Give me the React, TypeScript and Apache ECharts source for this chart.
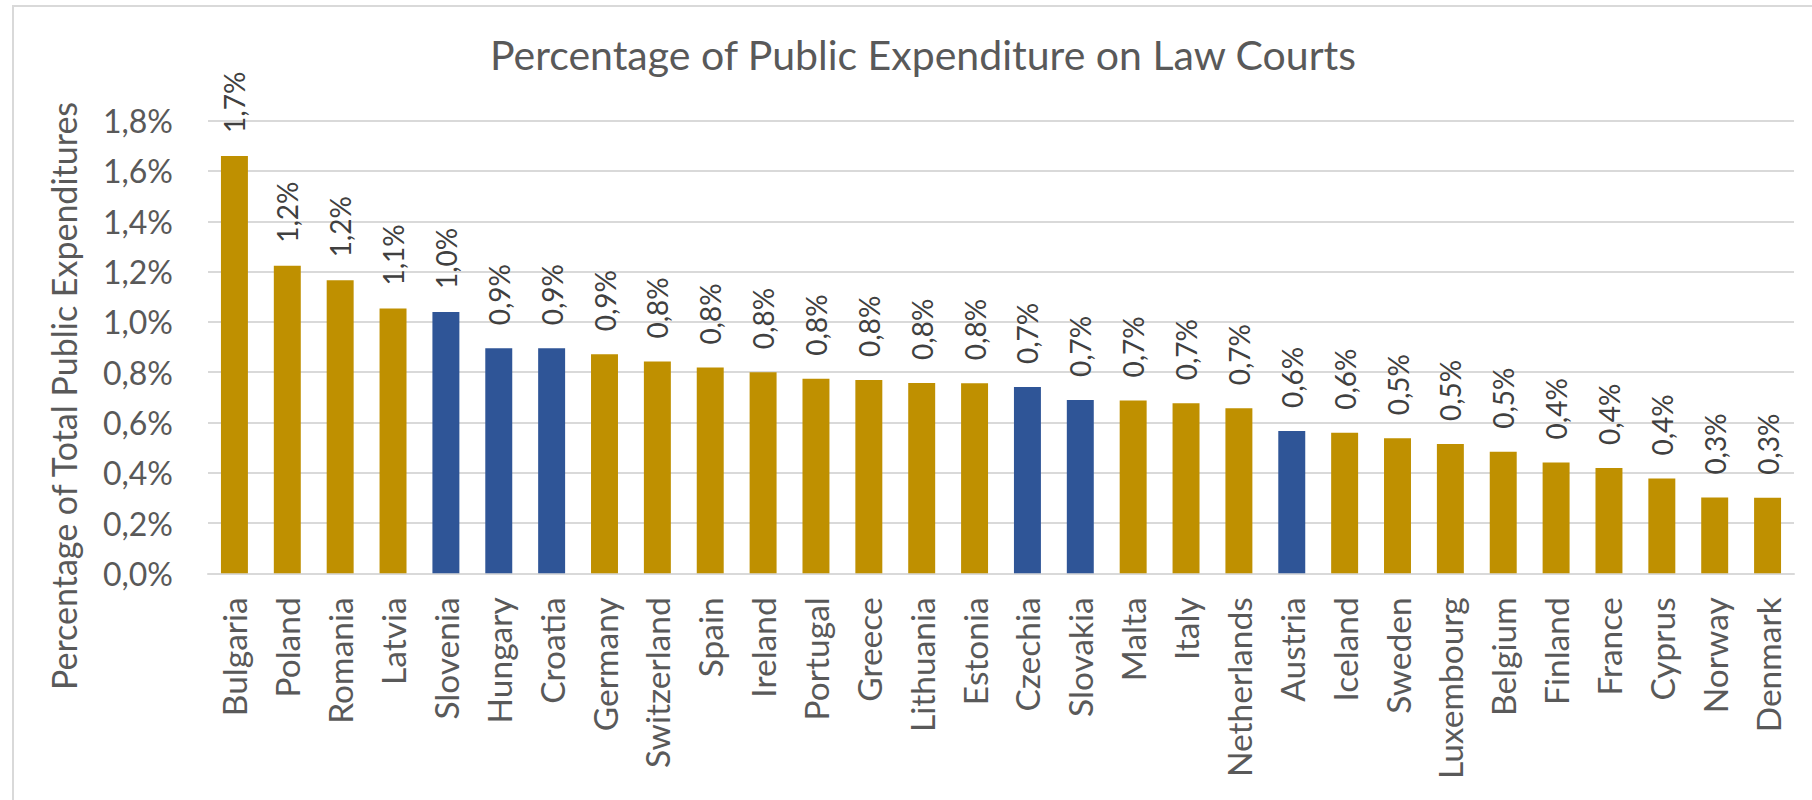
import React, { useEffect, useRef } from "react";
import * as echarts from "echarts";

const countries = [
  "Bulgaria", "Poland", "Romania", "Latvia", "Slovenia", "Hungary", "Croatia", "Germany",
  "Switzerland", "Spain", "Ireland", "Portugal", "Greece", "Lithuania", "Estonia", "Czechia",
  "Slovakia", "Malta", "Italy", "Netherlands", "Austria", "Iceland", "Sweden", "Luxembourg",
  "Belgium", "Finland", "France", "Cyprus", "Norway", "Denmark",
];

const values = [
  1.66, 1.223, 1.165, 1.053, 1.039, 0.895, 0.895, 0.871,
  0.842, 0.818, 0.8, 0.774, 0.769, 0.757, 0.756, 0.741,
  0.689, 0.687, 0.676, 0.656, 0.566, 0.559, 0.537, 0.514,
  0.483, 0.441, 0.419, 0.377, 0.301, 0.3,
];

const highlighted = ["Slovenia", "Hungary", "Croatia", "Czechia", "Slovakia", "Austria"];

const yTicks = { min: 0, max: 1.8, interval: 0.2 };

const GOLD = "#BF9000";
const BLUE = "#2F5597";
const FONT = "Lato";

export default function App() {
  const ref = useRef<HTMLDivElement>(null);
  useEffect(() => {
    document.body.style.margin = "0";
    if (!ref.current) return;
    const chart = echarts.init(ref.current, undefined, { renderer: "svg" });
    const fmt = (v: number) => v.toFixed(1).replace(".", ",") + "%";
    chart.setOption({
      animation: false,
      backgroundColor: "#ffffff",
      title: {
        text: "Percentage of Public Expenditure on Law Courts",
        left: 918,
        top: 29,
        textAlign: "center",
        textStyle: { fontFamily: FONT, fontSize: 41, fontWeight: "normal", color: "#595959" },
      },
      graphic: [
        {
          type: "rect",
          shape: { x: 13, y: 6, width: 1900, height: 900 },
          style: { fill: "none", stroke: "#d9d9d9", lineWidth: 2 },
          silent: true,
        },
        {
          type: "text",
          x: 63,
          y: 396,
          rotation: Math.PI / 2,
          style: {
            text: "Percentage of Total Public Expenditures",
            fontFamily: FONT,
            fontSize: 34,
            fill: "#595959",
            align: "center",
            verticalAlign: "middle",
          },
        },
      ],
      grid: { left: 208, right: 18, top: 120.7, bottom: 226.7, containLabel: false },
      xAxis: {
        type: "category",
        data: countries.slice(0, values.length),
        axisLine: { lineStyle: { color: "#d9d9d9", width: 2 } },
        axisTick: { show: false },
        axisLabel: {
          rotate: 90,
          interval: 0,
          margin: 24,
          fontFamily: FONT,
          fontSize: 33.5,
          color: "#595959",
        },
      },
      yAxis: {
        type: "value",
        min: yTicks.min,
        max: yTicks.max,
        interval: yTicks.interval,
        axisLine: { show: false },
        axisTick: { show: false },
        splitLine: { lineStyle: { color: "#d9d9d9", width: 2 } },
        axisLabel: {
          margin: 35,
          fontFamily: FONT,
          fontSize: 32,
          color: "#595959",
          formatter: (v: number) => fmt(v),
        },
      },
      series: [
        {
          type: "bar",
          barWidth: "51%",
          data: values.map((v, i) => ({
            value: v,
            itemStyle: {
              color: highlighted.includes(countries[i]) ? BLUE : GOLD,
            },
          })),
          label: {
            show: true,
            position: "top",
            rotate: 90,
            align: "left",
            verticalAlign: "middle",
            distance: 23,
            fontFamily: FONT,
            fontSize: 28,
            color: "#404040",
            formatter: (p: any) => fmt(p.value),
          },
        },
      ],
    });
    return () => chart.dispose();
  }, []);
  return <div ref={ref} style={{ width: 1812, height: 800 }} />;
}
